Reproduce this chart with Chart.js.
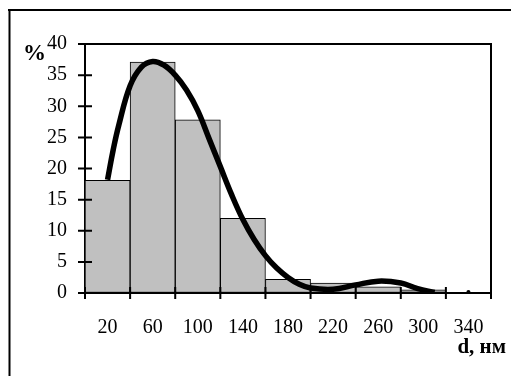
<!DOCTYPE html>
<html>
<head>
<meta charset="utf-8">
<script src="https://cdn.jsdelivr.net/npm/chart.js@4/dist/chart.umd.min.js"></script>
<style>
  body { margin: 0; background: #fff; }
  #wrap { width: 511px; height: 376px; }
</style>
</head>
<body>
<div id="wrap"><canvas id="sizeChart" width="511" height="376"></canvas></div>
<script>
// histogram bins (nm, centre of 40 nm interval) and share, %
const binCentres = [20, 60, 100, 140, 180, 220, 260, 300, 340];
const binShare = [18.1, 37.1, 27.8, 12.0, 2.2, 1.6, 1.0, 0.5, 0];
const binEdges = [0, 40, 80, 120, 160, 200, 240, 280, 320, 360];

// fitted distribution curve
const curveD = [20, 25, 30, 40, 50, 60, 70, 80, 90, 100, 110, 120, 130, 140, 150, 160, 170, 180, 190, 200, 220, 240, 260, 280, 295, 310];
const curveShare = [18.2, 23, 27, 33.3, 36.3, 37.2, 36.6, 35.0, 32.6, 29.3, 24.8, 20.3, 15.8, 11.8, 8.6, 6.0, 4.0, 2.5, 1.4, 0.8, 0.6, 1.3, 1.9, 1.6, 0.7, 0.1];
const strayD = [340];
const strayShare = [0.15];

const yTicks = [0, 5, 10, 15, 20, 25, 30, 35, 40];

const serif = "'Liberation Serif', 'Times New Roman', serif";

// frame, plot box, crossing ticks and axis captions
const decor = {
  id: 'decor',
  beforeDraw(chart) {
    const c = chart.ctx;
    c.save();
    c.fillStyle = '#fff';
    c.fillRect(0, 0, chart.width, chart.height);
    c.strokeStyle = '#000';
    c.lineWidth = 2;
    c.beginPath();
    c.moveTo(8, 10); c.lineTo(chart.width, 10);
    c.moveTo(9.5, 9); c.lineTo(9.5, chart.height);
    c.stroke();
    c.restore();
  },
  afterDraw(chart) {
    const c = chart.ctx;
    const a = chart.chartArea;
    const x = chart.scales.x;
    const y = chart.scales.y;
    c.save();
    c.strokeStyle = '#000';
    c.lineWidth = 2;
    c.beginPath();
    c.moveTo(a.left, a.top); c.lineTo(a.right, a.top); c.lineTo(a.right, a.bottom);
    yTicks.forEach(v => {
      const py = y.getPixelForValue(v);
      c.moveTo(a.left - 7, py); c.lineTo(a.left + 7, py);
    });
    binEdges.forEach(v => {
      const px = x.getPixelForValue(v);
      c.moveTo(px, a.bottom + 6); c.lineTo(px, a.bottom - 6);
    });
    c.stroke();
    c.fillStyle = '#000';
    c.textBaseline = 'alphabetic';
    c.textAlign = 'left';
    c.font = 'bold 23px ' + serif;
    c.fillText('%', 23, 60);
    c.textAlign = 'right';
    c.font = 'bold 21px ' + serif;
    c.fillText('d, нм', 506, 353);
    c.restore();
  }
};

const ctx = document.getElementById('sizeChart').getContext('2d');
const chart = new Chart(ctx, {
  type: 'bar',
  data: {
    datasets: [
      {
        type: 'line',
        data: curveD.map((d, i) => ({ x: d, y: curveShare[i] })),
        borderColor: '#000',
        borderWidth: 5.5,
        tension: 0.4,
        pointRadius: 0,
        fill: false,
        order: 1
      },
      {
        type: 'line',
        data: strayD.map((d, i) => ({ x: d, y: strayShare[i] })),
        showLine: false,
        pointRadius: 2,
        pointBackgroundColor: '#000',
        pointBorderWidth: 0,
        order: 0
      },
      {
        type: 'bar',
        data: binCentres.map((d, i) => ({ x: d, y: binShare[i] })),
        backgroundColor: '#c0c0c0',
        borderColor: '#000',
        borderWidth: 1,
        borderSkipped: false,
        barPercentage: 1,
        categoryPercentage: 1,
        order: 2
      }
    ]
  },
  options: {
    responsive: false,
    animation: false,
    layout: { padding: { top: 44, right: 20, left: 0, bottom: 0 } },
    plugins: { legend: { display: false }, tooltip: { enabled: false } },
    scales: {
      x: {
        type: 'linear',
        min: 0,
        max: 360,
        offset: false,
        afterBuildTicks(s) { s.ticks = binCentres.map(v => ({ value: v })); },
        grid: { offset: false, drawOnChartArea: false, drawTicks: false },
        border: { color: '#000', width: 2 },
        ticks: { color: '#000', font: { family: serif, size: 20 }, padding: 23, maxRotation: 0, autoSkip: false },
        afterFit(s) { s.height = 83; }
      },
      y: {
        min: 0,
        max: 40,
        afterBuildTicks(s) { s.ticks = yTicks.map(v => ({ value: v })); },
        grid: { drawOnChartArea: false, drawTicks: false },
        border: { color: '#000', width: 2 },
        ticks: { color: '#000', font: { family: serif, size: 20 }, padding: 18 },
        afterFit(s) { s.width = 85; }
      }
    }
  },
  plugins: [decor]
});
</script>
</body>
</html>
